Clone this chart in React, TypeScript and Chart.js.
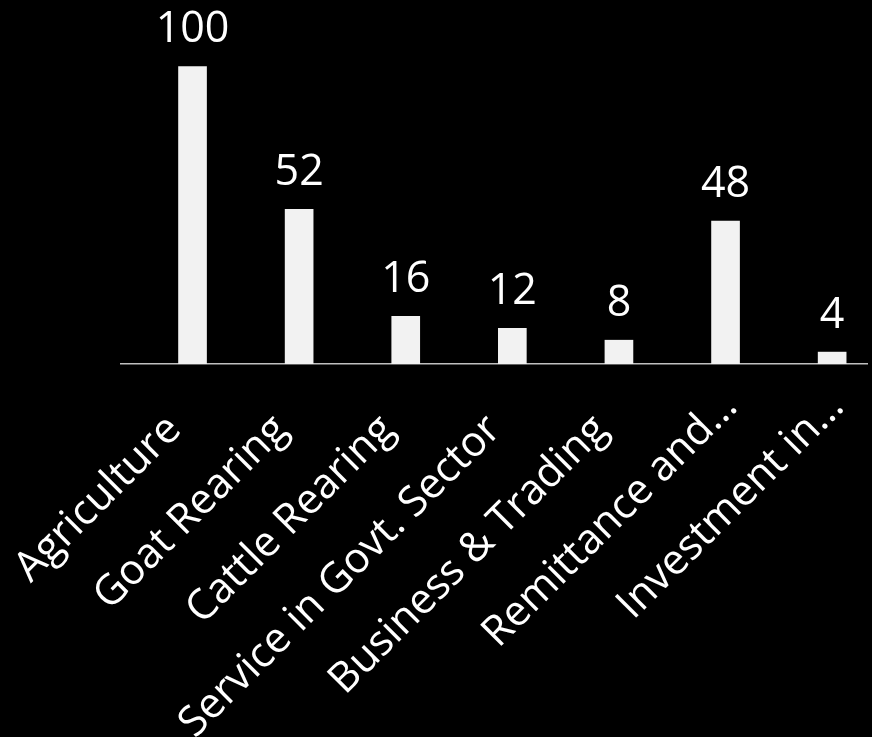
import React, { useEffect, useRef } from "react";
import { Chart, registerables } from "chart.js";

Chart.register(...registerables);

const categories = [
  "Agriculture",
  "Goat Rearing",
  "Cattle Rearing",
  "Service in Govt. Sector",
  "Business & Trading",
  "Remittance and…",
  "Investment in…",
];
const values = [100, 52, 16, 12, 8, 48, 4];

const FONT = "'Open Sans', 'DejaVu Sans', sans-serif";
// truncated labels in the reference reach further along the diagonal than full ones
const TRAIL = "\u00A0\u00A0\u00A0";

export default function App() {
  const ref = useRef<HTMLCanvasElement | null>(null);

  useEffect(() => {
    document.body.style.margin = "0";
    document.body.style.background = "#000";
    const canvas = ref.current;
    if (!canvas) return;

    const valueLabels = {
      id: "valueLabels",
      afterDatasetsDraw(chart: any) {
        const ctx = chart.ctx;
        const meta = chart.getDatasetMeta(0);
        ctx.save();
        ctx.fillStyle = "#ffffff";
        ctx.font = `43px ${FONT}`;
        ctx.textAlign = "center";
        ctx.textBaseline = "alphabetic";
        meta.data.forEach((bar: any, i: number) => {
          ctx.fillText(String(values[i]), bar.x, bar.y - 24);
        });
        ctx.restore();
      },
    };

    const chart = new Chart(canvas, {
      type: "bar",
      data: {
        datasets: [
          {
            data: values.map((v, i) => ({ x: i, y: v })),
            backgroundColor: "#f2f2f2",
            borderWidth: 0,
            barThickness: 28,
          },
        ],
      },
      options: {
        animation: false,
        responsive: false,
        maintainAspectRatio: false,
        layout: { padding: { top: 4, left: 121, right: 5, bottom: 0 } },
        plugins: { legend: { display: false }, tooltip: { enabled: false } },
        scales: {
          x: {
            type: "linear",
            min: -0.671,
            max: 6.327,
            offset: false,
            grid: { display: false, drawTicks: false },
            border: { display: true, color: "#bfbfbf", width: 1.5 },
            afterBuildTicks(scale: any) {
              scale.ticks = categories.map((_, i) => ({ value: i + 0.047 }));
            },
            afterFit(scale: any) {
              scale.height = 737 - 364;
              scale.paddingLeft = 0;
              scale.paddingRight = 0;
            },
            ticks: {
              autoSkip: false,
              maxRotation: 45,
              minRotation: 45,
              padding: 18,
              color: "#ffffff",
              font: { family: FONT, size: 42 },
              callback: (v: any) => {
                const name = categories[Math.round(Number(v))] ?? "";
                return name.endsWith("…") ? name : name + TRAIL;
              },
            },
          },
          y: {
            display: false,
            min: 0,
            max: 121,
          },
        },
      },
      plugins: [valueLabels],
    });
    return () => chart.destroy();
  }, []);

  return (
    <div style={{ position: "fixed", left: 0, top: 0, width: 872, height: 737, background: "#000" }}>
      <canvas ref={ref} width={872} height={737} style={{ width: 872, height: 737, display: "block" }} />
    </div>
  );
}
